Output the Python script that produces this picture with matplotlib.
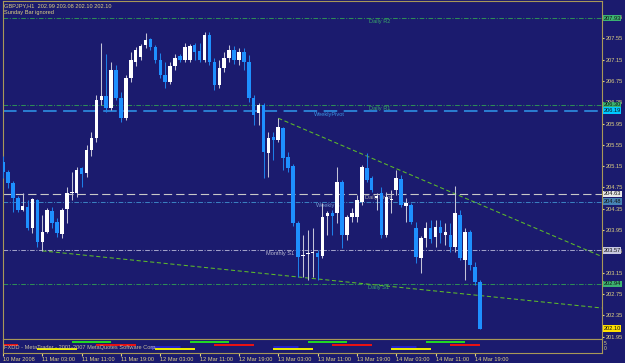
import matplotlib
matplotlib.use("Agg")
import matplotlib.pyplot as plt

# ---------------- data ----------------
title_line = "GBPJPY,H1  202.99 203.08 202.10 202.10"
subtitle_line = "Sunday Bar ignored"
copyright_line = "FXDD - MetaTrader - 2001-2007 MetaQuotes Software Corp."

opens = [205.23, 205.04, 204.83, 204.55, 204.33, 204.38, 203.99, 204.52, 203.73, 203.92,
         204.31, 204.10, 203.88, 204.35, 204.65, 204.65, 205.12, 205.02, 205.45, 205.68,
         206.39, 206.47, 206.24, 206.95, 206.43, 206.05, 206.80, 207.10, 207.20, 207.42,
         207.54, 207.39, 207.14, 206.86, 206.73, 207.03, 207.22, 207.14, 207.14, 207.42,
         207.31, 207.14, 207.61, 207.10, 206.67, 206.99, 207.18, 207.33, 207.14, 207.29,
         207.10, 206.43, 206.15, 206.30, 205.40, 205.70, 205.64, 205.87, 205.32, 205.15,
         204.08, 203.46, 203.50, 203.52, 203.52, 203.46, 204.22, 204.27, 204.27, 204.85,
         203.86, 204.20, 204.20, 204.48, 205.12, 204.93, 204.55, 204.65, 203.86, 204.52,
         204.70, 204.91, 204.40, 204.42, 203.99, 203.43, 203.80, 203.99, 203.82, 204.01,
         203.86, 203.86, 203.63, 204.23, 203.39, 203.92, 203.26, 202.98]
highs = [205.34, 205.08, 204.87, 204.59, 204.65, 204.52, 204.55, 204.53, 204.23, 204.37,
         204.38, 204.18, 204.37, 204.76, 205.04, 205.13, 205.13, 205.55, 205.79, 206.49,
         207.46, 207.25, 207.10, 207.05, 206.54, 206.86, 207.29, 207.39, 207.44, 207.65,
         207.55, 207.42, 207.27, 207.10, 207.10, 207.25, 207.25, 207.46, 207.44, 207.46,
         207.46, 207.67, 207.67, 207.18, 207.14, 207.29, 207.42, 207.40, 207.37, 207.37,
         207.24, 206.49, 206.34, 206.34, 205.79, 205.79, 206.05, 205.89, 205.42, 205.19,
         204.12, 203.86, 203.95, 203.99, 203.58, 204.46, 204.31, 204.33, 205.13, 204.89,
         204.23, 204.37, 204.61, 205.17, 205.40, 204.97, 204.65, 204.76, 204.67, 204.70,
         205.08, 204.98, 204.55, 204.46, 204.10, 203.84, 204.10, 204.14, 204.14, 204.14,
         204.08, 204.08, 204.78, 204.33, 203.99, 203.95, 203.35, 203.01]
lows = [204.93, 204.74, 204.29, 204.29, 204.31, 203.95, 203.90, 203.63, 203.56, 203.90,
        203.99, 203.82, 203.80, 204.08, 204.52, 204.57, 204.76, 204.95, 205.34, 205.60,
        206.30, 206.17, 206.20, 206.39, 205.98, 206.02, 206.73, 207.03, 207.14, 207.37,
        207.33, 207.09, 206.80, 206.62, 206.69, 206.95, 207.10, 207.10, 207.10, 207.14,
        207.10, 207.10, 207.05, 206.58, 206.62, 206.92, 207.10, 207.07, 207.05, 206.95,
        206.35, 205.92, 205.92, 204.93, 204.95, 205.27, 205.60, 205.08, 205.04, 204.03,
        203.07, 203.07, 203.01, 203.07, 203.01, 203.43, 203.86, 203.86, 204.08, 203.62,
        203.77, 204.10, 204.10, 204.42, 204.85, 204.67, 204.33, 203.80, 203.82, 204.27,
        204.61, 204.38, 204.10, 204.07, 203.33, 203.15, 203.63, 203.71, 203.63, 203.71,
        203.67, 203.54, 203.54, 203.39, 203.01, 203.20, 202.92, 202.10]
closes = [205.04, 204.83, 204.55, 204.33, 204.40, 203.99, 204.53, 203.73, 203.92, 204.33,
          204.08, 203.90, 204.33, 204.65, 204.67, 205.08, 205.00, 205.45, 205.68, 206.39,
          206.47, 206.24, 206.95, 206.43, 206.05, 206.80, 207.14, 207.33, 207.40, 207.52,
          207.39, 207.14, 206.86, 206.73, 207.03, 207.18, 207.14, 207.39, 207.40, 207.29,
          207.14, 207.61, 207.10, 206.67, 206.99, 207.18, 207.33, 207.14, 207.29, 207.10,
          206.43, 206.11, 206.30, 205.42, 205.68, 205.64, 205.89, 205.30, 205.12, 204.08,
          203.45, 203.48, 203.52, 203.54, 203.45, 204.20, 204.27, 204.22, 204.85, 203.86,
          204.20, 204.27, 204.52, 205.13, 204.89, 204.70, 204.59, 203.86, 204.57, 204.52,
          204.93, 204.42, 204.46, 204.10, 203.45, 203.80, 203.99, 203.78, 204.01, 203.90,
          203.92, 203.63, 204.27, 203.43, 203.92, 203.30, 202.98, 202.10]

time_labels = ["10 Mar 2008", "11 Mar 03:00", "11 Mar 11:00", "11 Mar 19:00",
               "12 Mar 03:00", "12 Mar 11:00", "12 Mar 19:00", "13 Mar 03:00",
               "13 Mar 11:00", "13 Mar 19:00", "14 Mar 03:00", "14 Mar 11:00",
               "14 Mar 19:00"]
time_label_bars = [0, 8, 16, 24, 32, 40, 48, 56, 64, 72, 80, 88, 96]

price_ticks = [201.95, 202.35, 202.75, 203.15, 203.55, 203.95, 204.35, 204.75,
               205.15, 205.55, 205.95, 206.35, 206.75, 207.15, 207.55, 207.95]

level_names = ["Daily R2", "Daily R1", "WeeklyPivot", "Daily Pivot",
               "Weekly S1", "Monthly S1", "Daily S1"]
level_values = [207.93, 206.30, 206.19, 204.63, 204.48, 203.57, 202.94]
level_label_bars = [74.5, 74.5, 63.3, 73.7, 63.7, 53.5, 74.3]
current_price = 202.10

upper_trend_bars = [56, 74]
upper_trend_prices = [206.05, 205.34]
lower_trend_bars = [8, 60]
lower_trend_prices = [203.56, 203.07]

session_green = [(14, 22), (38, 46), (62, 70), (86, 94)]
session_red = [(0, 3), (19, 27), (43, 51), (67, 75), (91, 97)]
session_blue = [(30, 36), (55, 60), (79, 84)]
session_yellow = [(7, 15), (31, 39), (55, 63), (79, 87)]

# ---------------- style ----------------
W, H = 625, 363
BG = "#1b1b6e"
FRAME = "#a89858"
TXT = "#e0d282"
BULL = "#ffffff"
BULL_WICK = "#c4c4d8"
BEAR = "#1e90ff"
BEAR_WICK = "#1e7fe8"
FONT = ["Liberation Sans", "DejaVu Sans"]
FS = 4.1

plt.rcParams["font.family"] = FONT
plt.rcParams["font.size"] = FS

DD = (4.5, 1.5, 1, 1.5)
level_styles = {
    "Daily R2": dict(color="#2e8b57", lw=0.75, dashes=DD, tcolor="#3aa86a", box="#3cb371"),
    "Daily R1": dict(color="#2e8b57", lw=0.75, dashes=DD, tcolor="#3aa86a", box="#3cb371"),
    "WeeklyPivot": dict(color="#2c86da", lw=1.3, dashes=(7.5, 3.6), tcolor="#3a90e0", box="#00c8ff"),
    "Daily Pivot": dict(color="#c8c8c8", lw=0.8, dashes=(7.5, 3.6), tcolor="#a8a8a8", box="#e8e8e8"),
    "Weekly S1": dict(color="#3a7fc0", lw=0.75, dashes=DD, tcolor="#7a9ad0", box="#4682b4"),
    "Monthly S1": dict(color="#a0a0c8", lw=0.75, dashes=DD, tcolor="#b8b8d0", box="#c8c8e0"),
    "Daily S1": dict(color="#2e8b57", lw=0.75, dashes=DD, tcolor="#3aa86a", box="#3cb371"),
}

# pixel layout
left_px, right_px, top_px, main_bot_px, sub_bot_px = 2.5, 601.7, 1.0, 339.3, 352.7
XMIN, XMAX = -0.1, 121.8
YMIN, YMAX = 201.90, 208.25

fig = plt.figure(figsize=(W / 100, H / 100), dpi=100, facecolor=BG)
ax = fig.add_axes([left_px / W, 1 - main_bot_px / H, (right_px - left_px) / W,
                   (main_bot_px - top_px) / H])
sub = fig.add_axes([left_px / W, 1 - sub_bot_px / H, (right_px - left_px) / W,
                    (sub_bot_px - main_bot_px) / H])

for a in (ax, sub):
    a.set_facecolor(BG)
    a.set_xlim(XMIN, XMAX)
    for s in a.spines.values():
        s.set_color(FRAME)
        s.set_linewidth(0.8)

ax.set_ylim(YMIN, YMAX)

BOX_OFF = 1.2  # points right of the axis edge

# level lines
for name, val, lb in zip(level_names, level_values, level_label_bars):
    st = level_styles[name]
    ax.axhline(val, color=st["color"], lw=st["lw"], dashes=st["dashes"], zorder=1)
    ax.annotate(name, xy=(lb, val), xytext=(0, -0.8), textcoords="offset points",
                ha="left", va="top", color=st["tcolor"], fontsize=FS, zorder=1.5)
    ax.annotate(f"{val:.2f}", xy=(1, val), xycoords=ax.get_yaxis_transform(),
                xytext=(BOX_OFF, 0), textcoords="offset points", ha="left", va="center",
                color="#101010", fontsize=FS, annotation_clip=False, zorder=10,
                bbox=dict(boxstyle="square,pad=0.15", fc=st["box"], ec="none"))

ax.annotate(f"{current_price:.2f}", xy=(1, current_price), xycoords=ax.get_yaxis_transform(),
            xytext=(BOX_OFF, 0), textcoords="offset points", ha="left", va="center",
            color="#101010", fontsize=FS, annotation_clip=False, zorder=10,
            bbox=dict(boxstyle="square,pad=0.15", fc="#ffe000", ec="none"))

# trend lines (rays)
for bx, py in ((upper_trend_bars, upper_trend_prices), (lower_trend_bars, lower_trend_prices)):
    slope = (py[1] - py[0]) / (bx[1] - bx[0])
    xe = XMAX
    ye = py[0] + slope * (xe - bx[0])
    ax.plot([bx[0], xe], [py[0], ye], color="#5dbb2a", lw=0.75, dashes=(4, 2.5), zorder=1.2)

# candles
bw = 0.72
for i, (o, h, l, c) in enumerate(zip(opens, highs, lows, closes)):
    up = c >= o
    wick = BULL_WICK if up else BEAR_WICK
    body = BULL if up else BEAR
    ax.vlines(i, l, h, color=wick, lw=0.75, zorder=3)
    lo, hi = min(o, c), max(o, c)
    hgt = max(hi - lo, 0.014)
    ax.bar(i, hgt, bottom=lo, width=bw, color=body, linewidth=0, zorder=4)

# price axis
ax.yaxis.tick_right()
ax.set_yticks(price_ticks)
ax.set_yticklabels([f"{t:.2f}" for t in price_ticks])
ax.tick_params(axis="y", colors=TXT, length=1.5, width=0.8, pad=1.2, labelsize=FS)
ax.tick_params(axis="x", bottom=False, labelbottom=False)

# header text
ax.text(0.003, 0.993, title_line, transform=ax.transAxes, ha="left", va="top",
        color=TXT, fontsize=FS, zorder=11)
ax.text(0.003, 0.972, subtitle_line, transform=ax.transAxes, ha="left", va="top",
        color=TXT, fontsize=FS, zorder=11)

# sub window (sessions)
sub.set_ylim(0, 1)
for segs, col, yv, lw in ((session_green, "#22dd22", 0.80, 1.4),
                          (session_red, "#ee1111", 0.60, 1.4),
                          (session_blue, "#2222cc", 0.42, 2.2),
                          (session_yellow, "#f0f000", 0.27, 1.4)):
    for s0, s1 in segs:
        sub.plot([s0, s1], [yv, yv], color=col, lw=lw, solid_capstyle="butt", zorder=2)
sub.text(0.002, 0.40, copyright_line, transform=sub.transAxes, ha="left", va="center",
         color="#c8c0a0", fontsize=FS, zorder=5)
sub.set_yticks([])
sub.text(1.004, 0.66, "5", transform=sub.transAxes, ha="left", va="center",
         color=TXT, fontsize=FS - 0.6)
sub.text(1.004, 0.28, "0", transform=sub.transAxes, ha="left", va="center",
         color=TXT, fontsize=FS - 0.6)

sub.set_xticks(time_label_bars)
sub.set_xticklabels(time_labels, ha="left")
sub.tick_params(axis="x", colors=TXT, length=2, width=0.8, pad=0.8, labelsize=FS,
                direction="out")
for lab in sub.get_xticklabels():
    lab.set_color(TXT)

fig.savefig("out.png", dpi=100, facecolor=BG)
